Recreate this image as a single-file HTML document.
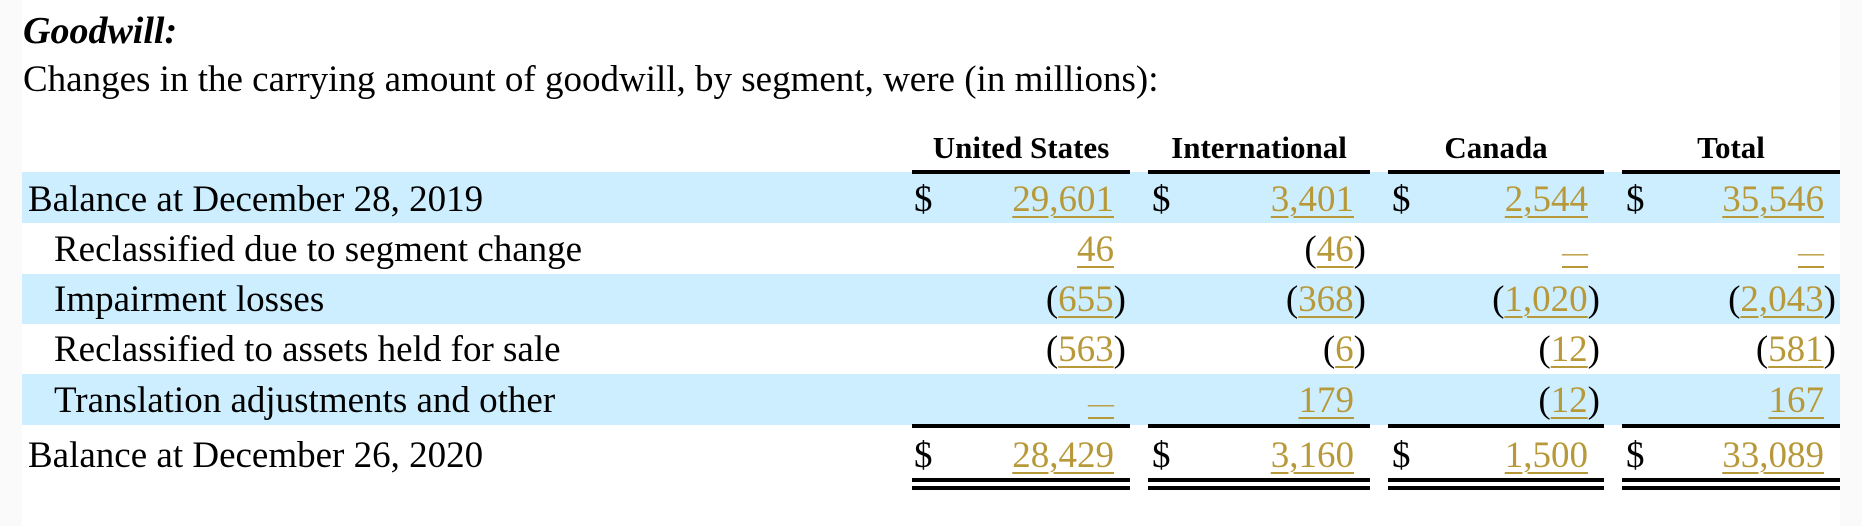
<!DOCTYPE html>
<html><head><meta charset="utf-8"><style>
body{margin:0;width:1862px;height:526px;background:#fafafa;position:relative;overflow:hidden;font-family:"Liberation Serif",serif;color:#000}
#w{position:absolute;left:22px;top:0;width:1818px;height:526px;background:#fff}
.b{position:absolute;left:22px;width:1818px;background:#cceeff}
.t{position:absolute;font-size:37px;line-height:37px;white-space:nowrap}
.h{position:absolute;font-size:31px;line-height:31px;font-weight:bold;text-align:center;white-space:nowrap}
.l{position:absolute;height:4px;background:#000}
.v{position:absolute;font-size:37px;line-height:37px;white-space:nowrap;text-align:right}
.v u{color:#b8993a;text-decoration:underline;text-decoration-color:#b8993a;text-decoration-thickness:2px;text-underline-offset:5px}
.p{padding-right:12px}
.d{font-size:26px}
</style></head><body>
<div id="w"></div>
<div class="b" style="top:172px;height:51px"></div>
<div class="b" style="top:274px;height:50px"></div>
<div class="b" style="top:374px;height:51px"></div>

<div class="t" style="left:23px;top:12px;font-size:38px;line-height:38px;font-weight:bold;font-style:italic">Goodwill:</div>
<div class="t" style="left:23px;top:61px">Changes in the carrying amount of goodwill, by segment, were (in millions):</div>

<div class="h" style="left:912px;width:218px;top:132px">United States</div>
<div class="h" style="left:1148px;width:222px;top:132px">International</div>
<div class="h" style="left:1388px;width:216px;top:132px">Canada</div>
<div class="h" style="left:1622px;width:218px;top:132px">Total</div>

<div class="l" style="left:912px;width:218px;top:170px"></div>
<div class="l" style="left:1148px;width:222px;top:170px"></div>
<div class="l" style="left:1388px;width:216px;top:170px"></div>
<div class="l" style="left:1622px;width:218px;top:170px"></div>

<div class="l" style="left:912px;width:218px;top:424px"></div>
<div class="l" style="left:1148px;width:222px;top:424px"></div>
<div class="l" style="left:1388px;width:216px;top:424px"></div>
<div class="l" style="left:1622px;width:218px;top:424px"></div>

<div class="l" style="left:912px;width:218px;top:478px"></div>
<div class="l" style="left:1148px;width:222px;top:478px"></div>
<div class="l" style="left:1388px;width:216px;top:478px"></div>
<div class="l" style="left:1622px;width:218px;top:478px"></div>
<div class="l" style="left:912px;width:218px;top:486px"></div>
<div class="l" style="left:1148px;width:222px;top:486px"></div>
<div class="l" style="left:1388px;width:216px;top:486px"></div>
<div class="l" style="left:1622px;width:218px;top:486px"></div>

<div class="t" style="left:28px;top:181px">Balance at December 28, 2019</div>
<div class="t" style="left:54px;top:231px">Reclassified due to segment change</div>
<div class="t" style="left:54px;top:281px">Impairment losses</div>
<div class="t" style="left:54px;top:331px">Reclassified to assets held for sale</div>
<div class="t" style="left:54px;top:382px">Translation adjustments and other</div>
<div class="t" style="left:28px;top:437px">Balance at December 26, 2020</div>

<div class="t" style="left:914px;top:181px">$</div>
<div class="t" style="left:1152px;top:181px">$</div>
<div class="t" style="left:1392px;top:181px">$</div>
<div class="t" style="left:1626px;top:181px">$</div>
<div class="t" style="left:914px;top:437px">$</div>
<div class="t" style="left:1152px;top:437px">$</div>
<div class="t" style="left:1392px;top:437px">$</div>
<div class="t" style="left:1626px;top:437px">$</div>

<div class="v p" style="right:736px;top:181px"><u>29,601</u></div>
<div class="v p" style="right:496px;top:181px"><u>3,401</u></div>
<div class="v p" style="right:262px;top:181px"><u>2,544</u></div>
<div class="v p" style="right:26px;top:181px"><u>35,546</u></div>

<div class="v p" style="right:736px;top:231px"><u>46</u></div>
<div class="v" style="right:496px;top:231px">(<u>46</u>)</div>
<div class="v p" style="right:262px;top:231px"><u class="d">—</u></div>
<div class="v p" style="right:26px;top:231px"><u class="d">—</u></div>

<div class="v" style="right:736px;top:281px">(<u>655</u>)</div>
<div class="v" style="right:496px;top:281px">(<u>368</u>)</div>
<div class="v" style="right:262px;top:281px">(<u>1,020</u>)</div>
<div class="v" style="right:26px;top:281px">(<u>2,043</u>)</div>

<div class="v" style="right:736px;top:331px">(<u>563</u>)</div>
<div class="v" style="right:496px;top:331px">(<u>6</u>)</div>
<div class="v" style="right:262px;top:331px">(<u>12</u>)</div>
<div class="v" style="right:26px;top:331px">(<u>581</u>)</div>

<div class="v p" style="right:736px;top:382px"><u class="d">—</u></div>
<div class="v p" style="right:496px;top:382px"><u>179</u></div>
<div class="v" style="right:262px;top:382px">(<u>12</u>)</div>
<div class="v p" style="right:26px;top:382px"><u>167</u></div>

<div class="v p" style="right:736px;top:437px"><u>28,429</u></div>
<div class="v p" style="right:496px;top:437px"><u>3,160</u></div>
<div class="v p" style="right:262px;top:437px"><u>1,500</u></div>
<div class="v p" style="right:26px;top:437px"><u>33,089</u></div>
</body></html>
